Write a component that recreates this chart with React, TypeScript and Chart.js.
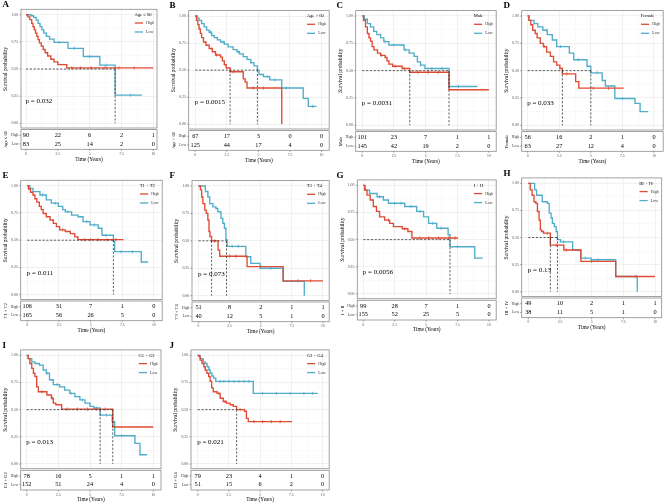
import React, { useEffect, useRef } from "react";
import { Chart, registerables } from "chart.js";

Chart.register(...registerables);

// ---------- axis ticks / labels ----------
const timeTicks = [0, 2.5, 5, 7.5, 10];
const timeTickLabels = ["0", "2.5", "5", "7.5", "10"];
const timeMinorTicks = [1.25, 3.75, 6.25, 8.75];
const survTicks = [0, 0.25, 0.5, 0.75, 1];
const survTickLabels = ["0.00", "0.25", "0.50", "0.75", "1.00"];
const survMinorTicks = [0.125, 0.375, 0.625, 0.875];
const groupNames = ["High", "Low"];

const panelLetters = ["A", "B", "C", "D", "E", "F", "G", "H", "I", "J"];
const strataTitles = ["Age ≤ 60", "Age > 60", "Male", "Female", "T1 + T2", "T3 + T4", "I + II", "III + IV", "G1 + G2", "G3 + G4"];
const pValueTexts = ["p = 0.032", "p = 0.0015", "p = 0.0031", "p = 0.033", "p = 0.011", "p = 0.073", "p = 0.0056", "p = 0.13", "p = 0.013", "p = 0.021"];

// ---------- survival curves [time (years), survival probability] ----------
const highA = [[0,1],[0.15,0.98],[0.3,0.955],[0.45,0.92],[0.55,0.89],[0.65,0.86],[0.75,0.83],[0.85,0.8],[0.95,0.77],[1.05,0.74],[1.2,0.71],[1.35,0.68],[1.5,0.65],[1.7,0.62],[1.95,0.59],[2.2,0.565],[2.5,0.54],[3.2,0.51],[10,0.51]];
const lowA = [[0,1],[0.4,0.99],[0.6,0.975],[0.8,0.95],[0.95,0.92],[1.1,0.89],[1.25,0.86],[1.4,0.83],[1.6,0.8],[1.85,0.775],[2.2,0.745],[3.3,0.69],[4.5,0.615],[5.8,0.535],[7.0,0.26],[9.1,0.26]];
const highB = [[0,1],[0.1,0.96],[0.2,0.92],[0.3,0.88],[0.4,0.84],[0.5,0.8],[0.65,0.76],[0.85,0.73],[1.1,0.7],[1.35,0.67],[1.6,0.64],[2.0,0.62],[2.15,0.585],[2.3,0.55],[2.45,0.52],[2.76,0.485],[3.8,0.42],[3.95,0.39],[4.1,0.335],[6.85,0]];
const lowB = [[0,1],[0.15,0.98],[0.3,0.96],[0.5,0.93],[0.7,0.9],[0.9,0.87],[1.1,0.85],[1.3,0.82],[1.5,0.8],[1.75,0.78],[2.0,0.76],[2.3,0.74],[2.6,0.715],[3.0,0.69],[3.3,0.67],[3.5,0.65],[3.8,0.625],[4.1,0.6],[4.4,0.57],[4.65,0.54],[4.92,0.5],[5.05,0.46],[5.4,0.44],[5.9,0.41],[6.85,0.335],[8.55,0.24],[8.95,0.165],[9.6,0.165]];
const highC = [[0,1],[0.1,0.96],[0.25,0.9],[0.4,0.84],[0.53,0.8],[0.65,0.77],[0.78,0.72],[0.92,0.69],[1.2,0.66],[1.45,0.64],[1.8,0.62],[1.95,0.59],[2.1,0.56],[2.4,0.54],[3.15,0.52],[3.75,0.485],[6.85,0.325],[10,0.325]];
const lowC = [[0,1],[0.15,0.97],[0.4,0.93],[0.65,0.9],[0.9,0.86],[1.15,0.83],[1.45,0.8],[1.7,0.765],[2.1,0.735],[3.3,0.69],[3.7,0.66],[4.1,0.63],[4.35,0.58],[4.6,0.55],[4.95,0.52],[6.85,0.355],[9.1,0.355]];
const highD = [[0,1],[0.1,0.96],[0.25,0.92],[0.4,0.87],[0.6,0.84],[0.75,0.8],[1.0,0.75],[1.25,0.72],[1.5,0.67],[1.8,0.63],[2.05,0.58],[2.3,0.55],[2.55,0.52],[2.75,0.47],[3.8,0.4],[4.05,0.34],[7.6,0.34]];
const lowD = [[0,1],[0.1,0.96],[0.5,0.93],[0.8,0.9],[1.2,0.87],[1.55,0.83],[1.95,0.78],[2.3,0.72],[3.3,0.66],[3.65,0.6],[4.7,0.54],[5.0,0.48],[5.9,0.41],[6.15,0.36],[6.9,0.245],[8.5,0.2],[8.9,0.125],[9.55,0.125]];
const highE = [[0,1],[0.1,0.97],[0.25,0.94],[0.45,0.915],[0.6,0.88],[0.75,0.85],[0.95,0.81],[1.1,0.78],[1.25,0.745],[1.5,0.715],[1.8,0.685],[2.05,0.655],[2.3,0.625],[2.55,0.595],[3.0,0.58],[3.4,0.56],[3.75,0.53],[4.0,0.505],[7.6,0.505]];
const lowE = [[0,1],[0.2,0.975],[0.45,0.945],[1.0,0.915],[1.5,0.87],[1.9,0.84],[2.45,0.81],[2.8,0.78],[3.0,0.76],[3.5,0.73],[4.0,0.715],[4.4,0.67],[4.95,0.64],[5.6,0.61],[5.9,0.545],[6.8,0.49],[6.9,0.395],[9.0,0.3],[9.55,0.3]];
const highF = [[0,1],[0.15,0.965],[0.25,0.9],[0.35,0.84],[0.5,0.78],[0.62,0.75],[0.75,0.69],[0.84,0.585],[0.92,0.54],[1.05,0.5],[1.57,0.415],[1.7,0.36],[3.9,0.265],[6.8,0.135],[10,0.135]];
const lowF = [[0,1],[0.55,0.95],[0.75,0.9],[0.9,0.84],[1.15,0.81],[1.4,0.795],[1.55,0.765],[1.8,0.705],[1.95,0.66],[2.08,0.615],[2.2,0.51],[2.3,0.45],[3.8,0.355],[4.2,0.295],[4.95,0.25],[6.8,0.13],[8.5,0]];
const highG = [[0,1],[0.1,0.955],[0.3,0.91],[0.55,0.865],[0.8,0.805],[1.05,0.76],[1.3,0.71],[1.7,0.68],[2.1,0.65],[2.4,0.62],[3.1,0.6],[3.55,0.575],[3.87,0.515],[7.55,0.515]];
const lowG = [[0,1],[0.15,0.955],[0.5,0.925],[1.1,0.895],[1.6,0.865],[2.0,0.835],[3.3,0.805],[4.25,0.76],[4.8,0.71],[5.2,0.65],[5.85,0.605],[6.75,0.545],[6.9,0.435],[8.87,0.33],[9.5,0.33]];
const highH = [[0,1],[0.15,0.94],[0.3,0.89],[0.45,0.83],[0.6,0.815],[0.72,0.74],[0.85,0.66],[0.95,0.57],[1.05,0.555],[1.2,0.54],[1.74,0.43],[2.8,0.385],[4.15,0.28],[6.9,0.14],[10,0.14]];
const lowH = [[0,1],[0.5,0.94],[0.65,0.89],[1.1,0.83],[1.5,0.815],[1.65,0.725],[1.8,0.68],[1.9,0.63],[2.05,0.6],[2.2,0.555],[2.3,0.48],[2.55,0.46],[3.5,0.385],[4.15,0.31],[4.95,0.295],[6.9,0.14],[8.6,0]];
const highI = [[0,1],[0.12,0.97],[0.25,0.925],[0.4,0.88],[0.53,0.835],[0.65,0.805],[0.79,0.71],[0.92,0.665],[1.6,0.635],[1.95,0.605],[2.1,0.56],[2.3,0.545],[2.76,0.505],[6.8,0.34],[10,0.34]];
const lowI = [[0,1],[0.12,0.97],[0.4,0.94],[0.65,0.925],[1.0,0.91],[1.3,0.865],[1.55,0.835],[1.8,0.775],[2.1,0.73],[2.6,0.71],[3.0,0.68],[3.4,0.65],[3.8,0.62],[4.2,0.59],[4.6,0.56],[5.0,0.53],[5.3,0.515],[5.8,0.45],[6.75,0.39],[6.95,0.26],[8.55,0.19],[8.95,0.085],[9.5,0.085]];
const highJ = [[0,1],[0.1,0.99],[0.2,0.955],[0.35,0.925],[0.5,0.895],[0.6,0.865],[0.74,0.835],[0.88,0.805],[1.0,0.76],[1.12,0.7],[1.25,0.665],[1.55,0.65],[1.8,0.605],[2.05,0.575],[2.3,0.56],[2.6,0.545],[2.85,0.53],[3.12,0.5],[3.75,0.485],[3.9,0.42],[4.05,0.39],[7.55,0.39]];
const lowJ = [[0,1],[0.2,0.97],[0.45,0.94],[0.6,0.925],[0.75,0.895],[0.9,0.865],[1.0,0.835],[1.15,0.81],[1.27,0.79],[1.45,0.76],[4.45,0.65],[9.6,0.65]];

// ---------- censoring times (years) ----------
const censorHighA = [3.6, 4.3, 5.1, 6.2, 7.3, 8.5];
const censorLowA = [2.6, 3.8, 5.0, 6.3, 8.2];
const censorHighB = [1.7, 3.0, 4.6, 5.4];
const censorLowB = [1.2, 2.2, 3.4, 4.4, 5.7, 6.3, 7.2, 9.3];
const censorHighC = [1.5, 2.6, 3.3, 4.4, 5.2, 6.0];
const censorLowC = [1.8, 2.5, 3.4, 4.6, 5.5, 6.3, 7.6];
const censorHighD = [1.3, 3.1, 5.2, 6.4];
const censorLowD = [1.5, 2.6, 4.0, 5.5, 7.5];
const censorHighE = [2.8, 4.5, 5.0, 5.6, 6.3, 7.0];
const censorLowE = [1.2, 2.2, 3.2, 4.7, 5.3, 6.2, 7.4, 8.3];
const censorHighF = [1.3, 2.5, 3.0, 5.0, 8.0, 9.0];
const censorLowF = [2.7, 3.2, 5.8];
const censorHighG = [2.0, 3.3, 4.5, 5.2, 6.0, 6.8, 7.3];
const censorLowG = [1.3, 2.5, 3.0, 3.8, 4.5, 5.5, 6.2, 7.5];
const censorHighH = [1.5, 2.2, 3.0, 5.0, 8.5];
const censorLowH = [2.8, 4.5, 5.5];
const censorHighI = [1.2, 2.0, 3.2, 4.0, 4.8, 5.5, 6.2];
const censorLowI = [1.6, 2.4, 3.5, 4.4, 5.5, 6.3, 7.5];
const censorHighJ = [1.7, 2.2, 3.4, 4.5, 5.2, 5.9, 6.6];
const censorLowJ = [1.8, 2.1, 2.5, 2.9, 3.3, 3.7, 4.1, 5.2, 6.3, 7.4, 8.5, 9.2];

// ---------- median survival times ----------
const mediansA = [7.0];
const mediansB = [2.76, 4.92];
const mediansC = [3.75, 6.85];
const mediansD = [2.75, 5.0];
const mediansE = [6.8];
const mediansF = [1.05, 2.25];
const mediansG = [6.9];
const mediansH = [1.74, 2.3];
const mediansI = [5.8, 6.8];
const mediansJ = [3.12];

// ---------- numbers at risk at 0, 2.5, 5, 7.5, 10 ----------
const riskHighA = [90, 22, 6, 2, 1];
const riskLowA = [83, 25, 14, 2, 0];
const riskHighB = [67, 17, 3, 0, 0];
const riskLowB = [125, 44, 17, 4, 0];
const riskHighC = [101, 23, 7, 1, 1];
const riskLowC = [145, 42, 19, 2, 0];
const riskHighD = [56, 16, 2, 1, 0];
const riskLowD = [63, 27, 12, 4, 0];
const riskHighE = [106, 31, 7, 1, 0];
const riskLowE = [165, 56, 26, 5, 0];
const riskHighF = [51, 8, 2, 1, 1];
const riskLowF = [40, 12, 5, 1, 0];
const riskHighG = [99, 28, 7, 1, 0];
const riskLowG = [155, 52, 25, 5, 0];
const riskHighH = [49, 10, 2, 1, 1];
const riskLowH = [38, 11, 5, 1, 0];
const riskHighI = [78, 16, 5, 1, 1];
const riskLowI = [152, 51, 24, 4, 0];
const riskHighJ = [79, 23, 4, 1, 0];
const riskLowJ = [51, 15, 6, 2, 0];

const highCurves = [highA, highB, highC, highD, highE, highF, highG, highH, highI, highJ];
const lowCurves = [lowA, lowB, lowC, lowD, lowE, lowF, lowG, lowH, lowI, lowJ];
const highCensors = [censorHighA, censorHighB, censorHighC, censorHighD, censorHighE, censorHighF, censorHighG, censorHighH, censorHighI, censorHighJ];
const lowCensors = [censorLowA, censorLowB, censorLowC, censorLowD, censorLowE, censorLowF, censorLowG, censorLowH, censorLowI, censorLowJ];
const medianLists = [mediansA, mediansB, mediansC, mediansD, mediansE, mediansF, mediansG, mediansH, mediansI, mediansJ];
const riskHighs = [riskHighA, riskHighB, riskHighC, riskHighD, riskHighE, riskHighF, riskHighG, riskHighH, riskHighI, riskHighJ];
const riskLows = [riskLowA, riskLowB, riskLowC, riskLowD, riskLowE, riskLowF, riskLowG, riskLowH, riskLowI, riskLowJ];

// ---------- layout (page pixels): [boxLeft, boxRight, x=0 px, x=10 px, y=1 px, y=0 px] ----------
const panelBoxes = [
  [21, 157, 26, 153.3, 14.7, 123.3],
  [188.7, 329.7, 195.3, 322, 16, 124.3],
  [355.7, 496.3, 362.3, 489, 16, 125.3],
  [521.7, 664.3, 527.7, 655, 16, 125.3],
  [20.7, 162.3, 27.3, 154, 185.7, 294.7],
  [192, 332.7, 198.7, 326.3, 186, 295.7],
  [357.3, 497.3, 363.3, 490, 185.3, 294],
  [521.7, 661.7, 528.3, 655, 183.3, 291.7],
  [20.7, 161, 26.7, 153.3, 355.3, 464],
  [191, 330.3, 197.7, 323.7, 355.3, 464],
];
const cellX = [0, 167, 334, 501];
const cellY = [0, 170, 340];
const cellH = [170, 170, 163];
const CELL_W = 167;

const RED = "#DF4A32";
const BLUE = "#4FADC9";
const SERIF = '"Liberation Serif", "Times New Roman", serif';
const f = (size: number, bold = false) => `${bold ? "bold " : ""}${size}px ${SERIF}`;

// survival value of a step curve at time t
const stepValue = (curve: number[][], t: number) => {
  let v = curve[0][1];
  for (const [x, y] of curve) {
    if (x <= t) v = y;
    else break;
  }
  return v;
};

function KMPanel({ idx }: { idx: number }) {
  const ref = useRef<HTMLCanvasElement | null>(null);
  const col = idx % 4;
  const row = Math.floor(idx / 4);
  const ox = cellX[col];
  const oy = cellY[row];
  const h = cellH[row];

  useEffect(() => {
    if (!ref.current) return;
    const [bL, bR, x0, x10, y1, y0] = panelBoxes[idx];
    const ppy = (x10 - x0) / 10;
    const ppu = y0 - y1;
    const topExp = 5.4;
    const botExp = 4.7;
    const xmin = -(x0 - bL) / ppy;
    const xmax = 10 + (bR - x10) / ppy;
    const ymin = -botExp / ppu;
    const ymax = 1 + topExp / ppu;
    const padL = bL - ox;
    const padR = CELL_W - (bR - ox);
    const padT = y1 - topExp - oy;
    const padB = h - (y0 + botExp - oy);

    const meds = medianLists[idx];
    const mMax = Math.max(...meds);
    const dashStyle = { borderColor: "#2a2a2a", borderWidth: 0.75, borderDash: [2.2, 1.6], pointRadius: 0, fill: false, stepped: false };
    const medianSets = [
      { label: "median", data: [{ x: 0, y: 0.5 }, { x: mMax, y: 0.5 }], ...dashStyle },
      ...meds.map((m) => ({ label: "median", data: [{ x: m, y: 0.5 }, { x: m, y: 0 }], ...dashStyle })),
    ];
    const toPts = (arr: number[][]) => arr.map(([x, y]) => ({ x, y }));
    const censorSet = (times: number[], curve: number[][], color: string) => ({
      label: "censor",
      data: times.map((t) => ({ x: t, y: stepValue(curve, t) })),
      showLine: false,
      pointStyle: "line",
      rotation: 90,
      pointRadius: 1.6,
      pointBorderWidth: 0.8,
      pointBorderColor: color,
      borderColor: color,
      backgroundColor: color,
    });

    const allTime = [...timeTicks, ...timeMinorTicks];
    const allSurv = [...survTicks, ...survMinorTicks];

    const decor = {
      id: "kmDecor" + idx,
      afterDraw(chart: any) {
        const { ctx, chartArea: a, scales } = chart;
        const xs = scales.x;
        const ys = scales.y;
        ctx.save();
        // plot border
        ctx.strokeStyle = "#8c8c8c";
        ctx.lineWidth = 0.8;
        ctx.strokeRect(a.left, a.top, a.right - a.left, a.bottom - a.top);

        // y ticks and labels
        ctx.font = f(3.9);
        ctx.fillStyle = "#4d4d4d";
        ctx.textAlign = "right";
        ctx.textBaseline = "middle";
        ctx.strokeStyle = "#555";
        ctx.lineWidth = 0.5;
        survTicks.forEach((v, i) => {
          const py = ys.getPixelForValue(v);
          ctx.beginPath();
          ctx.moveTo(a.left - 1.6, py);
          ctx.lineTo(a.left, py);
          ctx.stroke();
          ctx.fillText(survTickLabels[i], a.left - 2.8, py);
        });

        // panel letter
        ctx.fillStyle = "#000";
        ctx.font = f(9, true);
        ctx.textAlign = "left";
        ctx.textBaseline = "top";
        ctx.fillText(panelLetters[idx], 2.5, a.top - 9);

        // y-axis title
        const yMid = (ys.getPixelForValue(0) + ys.getPixelForValue(1)) / 2;
        ctx.save();
        ctx.translate(a.left - 15, yMid);
        ctx.rotate(-Math.PI / 2);
        ctx.font = f(5.5);
        ctx.textAlign = "center";
        ctx.textBaseline = "middle";
        ctx.fillText("Survival probability", 0, 0);
        ctx.restore();

        // p-value
        ctx.font = f(7);
        ctx.textAlign = "left";
        ctx.textBaseline = "middle";
        ctx.fillStyle = "#000";
        ctx.fillText(pValueTexts[idx], xs.getPixelForValue(0) - 0.5, ys.getPixelForValue(0.2));

        // legend
        const py1 = ys.getPixelForValue(1);
        ctx.font = f(4.6);
        const tw = ctx.measureText(strataTitles[idx]).width;
        ctx.font = f(4);
        const lw = Math.max(...groupNames.map((g) => ctx.measureText(g).width));
        const keyW = 11.5 + lw;
        const W = Math.max(tw, keyW);
        const lx = a.right - 3 - W;
        ctx.font = f(4.6);
        ctx.fillStyle = "#000";
        ctx.fillText(strataTitles[idx], lx, py1);
        const colors = [RED, BLUE];
        groupNames.forEach((g, i) => {
          const ky = py1 + 8.3 + i * 9;
          ctx.strokeStyle = colors[i];
          ctx.lineWidth = 1.3;
          ctx.beginPath();
          ctx.moveTo(lx + 0.3, ky);
          ctx.lineTo(lx + 8.5, ky);
          ctx.stroke();
          ctx.font = f(4);
          ctx.fillStyle = "#333";
          ctx.fillText(g, lx + 11.5, ky);
        });

        // risk table
        const tTop = a.bottom + 1.6;
        const tBot = a.bottom + 21.3;
        ctx.strokeStyle = "#8c8c8c";
        ctx.lineWidth = 0.8;
        ctx.strokeRect(a.left, tTop, a.right - a.left, tBot - tTop);
        const rowsY = [a.bottom + 7.3, a.bottom + 16];
        const risks = [riskHighs[idx], riskLows[idx]];
        ctx.textBaseline = "middle";
        rowsY.forEach((ry, r) => {
          ctx.font = f(6.3);
          ctx.fillStyle = "#000";
          ctx.textAlign = "center";
          risks[r].forEach((v, i) => {
            ctx.fillText(String(v), xs.getPixelForValue(timeTicks[i]), ry);
          });
          ctx.font = f(3.7);
          ctx.fillStyle = "#333";
          ctx.textAlign = "right";
          ctx.fillText(groupNames[r], a.left - 2.6, ry);
          ctx.strokeStyle = "#555";
          ctx.lineWidth = 0.5;
          ctx.beginPath();
          ctx.moveTo(a.left - 1.6, ry);
          ctx.lineTo(a.left, ry);
          ctx.stroke();
        });
        // table strata title
        ctx.save();
        ctx.translate(a.left - 15, (tTop + tBot) / 2);
        ctx.rotate(-Math.PI / 2);
        ctx.font = f(4.6);
        ctx.fillStyle = "#000";
        ctx.textAlign = "center";
        ctx.textBaseline = "middle";
        ctx.fillText(strataTitles[idx], 0, 0);
        ctx.restore();

        // time ticks below the table
        ctx.strokeStyle = "#555";
        ctx.lineWidth = 0.5;
        ctx.font = f(3.7);
        ctx.fillStyle = "#4d4d4d";
        ctx.textAlign = "center";
        timeTicks.forEach((t, i) => {
          const px = xs.getPixelForValue(t);
          ctx.beginPath();
          ctx.moveTo(px, tBot);
          ctx.lineTo(px, tBot + 1.6);
          ctx.stroke();
          ctx.fillText(timeTickLabels[i], px, tBot + 4.6);
        });
        ctx.font = f(5.3);
        ctx.fillStyle = "#000";
        ctx.fillText("Time (Years)", (a.left + a.right) / 2, a.bottom + 31.3);
        ctx.restore();
      },
    };

    const chart = new Chart(ref.current, {
      type: "line",
      data: {
        datasets: [
          ...medianSets,
          { label: groupNames[0], data: toPts(highCurves[idx]), borderColor: RED, borderWidth: 1.35, stepped: true, pointRadius: 0, fill: false },
          { label: groupNames[1], data: toPts(lowCurves[idx]), borderColor: BLUE, borderWidth: 1.35, stepped: true, pointRadius: 0, fill: false },
          censorSet(highCensors[idx], highCurves[idx], RED),
          censorSet(lowCensors[idx], lowCurves[idx], BLUE),
        ] as any,
      },
      options: {
        responsive: false,
        animation: false,
        devicePixelRatio: 1,
        events: [],
        layout: { padding: { left: padL, right: padR, top: padT, bottom: padB } },
        plugins: { legend: { display: false }, tooltip: { enabled: false }, title: { display: false } },
        scales: {
          x: {
            type: "linear",
            min: xmin,
            max: xmax,
            afterFit: (s: any) => { s.height = 0; },
            afterBuildTicks: (s: any) => { s.ticks = allTime.map((v) => ({ value: v })); },
            ticks: { display: false, autoSkip: false },
            grid: {
              drawTicks: false,
              color: (c: any) => (timeTicks.includes(c.tick?.value) ? "#e8e8e8" : "#f3f3f3"),
              lineWidth: (c: any) => (timeTicks.includes(c.tick?.value) ? 0.6 : 0.4),
            },
            border: { display: false },
          },
          y: {
            type: "linear",
            min: ymin,
            max: ymax,
            afterFit: (s: any) => { s.width = 0; },
            afterBuildTicks: (s: any) => { s.ticks = allSurv.map((v) => ({ value: v })); },
            ticks: { display: false, autoSkip: false },
            grid: {
              drawTicks: false,
              color: (c: any) => (survTicks.includes(c.tick?.value) ? "#e8e8e8" : "#f3f3f3"),
              lineWidth: (c: any) => (survTicks.includes(c.tick?.value) ? 0.6 : 0.4),
            },
            border: { display: false },
          },
        },
      } as any,
      plugins: [decor],
    });
    return () => chart.destroy();
  }, [idx]);

  return (
    <canvas
      ref={ref}
      width={CELL_W}
      height={h}
      style={{ position: "absolute", left: ox, top: oy, width: CELL_W, height: h, display: "block" }}
    />
  );
}

export default function App() {
  return (
    <div style={{ position: "fixed", left: 0, top: 0, width: 668, height: 503, background: "#fff", overflow: "hidden" }}>
      {panelLetters.map((_, i) => (
        <KMPanel key={i} idx={i} />
      ))}
    </div>
  );
}
